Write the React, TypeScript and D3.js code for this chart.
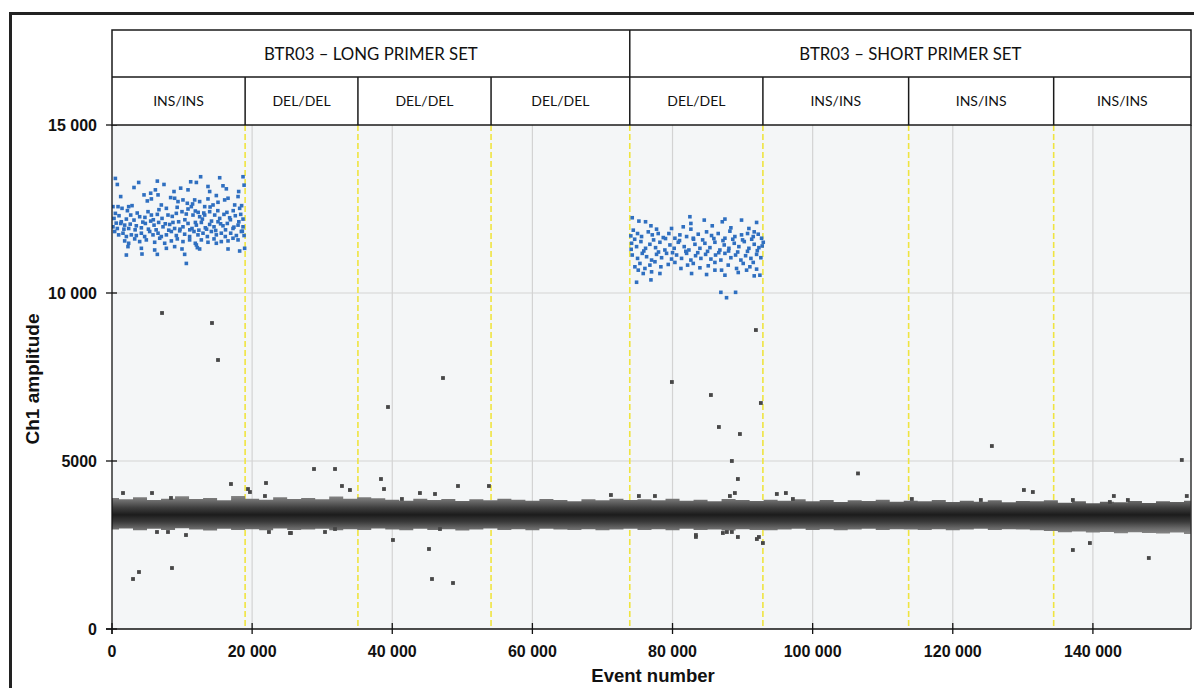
import React from "react";
import * as d3 from "d3";

const W = 1194;
const H = 688;

// ---------- data ----------
const xTicks = [0, 20000, 40000, 60000, 80000, 100000, 120000, 140000];
const yTicks = [0, 5000, 10000, 15000];
const tickLabel = (v: number) => (v === 0 ? "0" : v < 10000 ? String(v) : `${Math.floor(v / 1000)} 000`);

const wellBounds = [0, 19000, 35100, 54100, 73900, 92900, 113700, 134400, 154000];
const wellLabels = ["INS/INS", "DEL/DEL", "DEL/DEL", "DEL/DEL", "DEL/DEL", "INS/INS", "INS/INS", "INS/INS"];
const primerSets = ["BTR03 – LONG PRIMER SET", "BTR03 – SHORT PRIMER SET"];
const primerBounds = [0, 73900, 154000];

// band envelope sampled every 2000 events (0 .. 154000)
const bandStep = 2000;
const bandUpper = [
  3900, 3860, 3920, 3840, 3880, 3950, 3870, 3900, 3830, 3960, 3880, 3850, 3920, 3870, 3900, 3860, 3940, 3880, 3920, 3890,
  3850, 3820, 3880, 3840, 3870, 3810, 3860, 3830, 3880, 3850, 3820, 3870, 3840, 3800, 3860, 3830, 3880, 3840,
  3860, 3830, 3880, 3820, 3850, 3800, 3870, 3840, 3810, 3850,
  3820, 3860, 3800, 3840, 3780, 3830, 3810, 3850, 3790, 3820,
  3800, 3840, 3780, 3820, 3790, 3830, 3770, 3810, 3800, 3830,
  3760, 3800, 3740, 3790, 3770, 3810, 3750, 3800, 3780, 3820,
];
const bandLower = [
  2960, 2990, 2940, 2980, 2950, 3000, 2960, 2930, 2980, 2950, 2970, 2940, 2990, 2950, 2960, 2980, 2940, 2970, 2950, 2990,
  2960, 2940, 2980, 2950, 2970, 2930, 2960, 2990, 2950, 2970, 2940, 2980, 2960, 2950, 2970, 2940, 2960, 2980,
  2950, 2970, 2940, 2980, 2950, 2960, 2930, 2970, 2950, 2940,
  2960, 2980, 2950, 2970, 2940, 2960, 2980, 2950, 2970, 2960,
  2950, 2970, 2940, 2960, 2980, 2950, 2970, 2960, 2940, 2920,
  2880, 2900, 2870, 2890, 2850, 2880, 2860, 2840, 2870, 2830,
];

// positive droplets (event, amplitude) – long primer set INS/INS well
const positivesLong: [number, number][] = [
  [480, 13410], [760, 13230], [3810, 13290], [3140, 13140], [6470, 13330], [7420, 13230], [11230, 13310], [12040, 13290],
  [12650, 13460], [15370, 13430], [15840, 13190], [18700, 13460], [18850, 13210],
  [1240, 12870], [4570, 12920], [5520, 12970], [6190, 13070], [6570, 12920], [8370, 12840], [8850, 13020], [9800, 13120],
  [10850, 13070], [13700, 13170], [13940, 13020], [14890, 12900], [16320, 13100], [16560, 12820], [17990, 12870], [18080, 13020],
  [140, 12570], [860, 12570], [1430, 12520], [2380, 12570], [2860, 12600], [5040, 12740], [5620, 12800], [7040, 12620],
  [7760, 12520], [8940, 12820], [9420, 12720], [10130, 12770], [10750, 12670], [11320, 12570], [11800, 12770], [12510, 12720],
  [13230, 12570], [13700, 12800], [14420, 12620], [15130, 12700], [16080, 12770], [17510, 12620], [18220, 12520],
  [290, 12220], [480, 12370], [1330, 12120], [2050, 12200], [2670, 12320], [3140, 12170], [3950, 12270], [5140, 12420],
  [5620, 12320], [6470, 12340], [7140, 12220], [7990, 12320], [9180, 12370], [9990, 12420], [10850, 12500], [11560, 12320],
  [11890, 12440], [12510, 12270], [13230, 12320], [13940, 12420], [14660, 12320], [15370, 12220], [15980, 12340], [16790, 12240],
  [17600, 12300], [18370, 12340], [18700, 12200],
  [140, 11970], [760, 11920], [1240, 12070], [1810, 12020], [2380, 11920], [3470, 12000], [4190, 11940], [4760, 12070],
  [5520, 12140], [6000, 12020], [6660, 12100], [7280, 11970], [8230, 12040], [8940, 11920], [9510, 12120], [10130, 11970],
  [10850, 12070], [11420, 11920], [12040, 12020], [12750, 12100], [13320, 11940], [13940, 12040], [14560, 11970], [15130, 12120],
  [15840, 12000], [16460, 12070], [17270, 11920], [17990, 12020], [18700, 11970],
  [380, 11830], [950, 11730], [1570, 11780], [2050, 11680], [2760, 11730], [3470, 11710], [4190, 11780], [4660, 11680],
  [5380, 11830], [5850, 11730], [6570, 11780], [7040, 11680], [7760, 11730], [8470, 11830], [9180, 11710], [9660, 11850],
  [10370, 11750], [11080, 11680], [11700, 11830], [12270, 11730], [12990, 11780], [13610, 11680], [14180, 11830], [14890, 11730],
  [15600, 11780], [16170, 11680], [16940, 11780], [17750, 11710], [18460, 11830], [18850, 11710],
  [1810, 11550], [2380, 11480], [3240, 11610], [3950, 11530], [4900, 11580], [6090, 11510], [6810, 11630], [7520, 11480],
  [8470, 11550], [9320, 11610], [10130, 11530], [11080, 11580], [11890, 11480], [12750, 11580], [13700, 11510], [14560, 11610],
  [15600, 11530], [16560, 11550], [17270, 11630], [17990, 11580],
  [2280, 11380], [4190, 11330], [6090, 11280], [7760, 11330], [8940, 11380], [9990, 11310], [12040, 11430], [12510, 11310],
  [14890, 11480], [16560, 11310], [18220, 11250], [18930, 11330],
  [2050, 11130], [4280, 11160], [6470, 11150], [10370, 11150], [12180, 11350], [10610, 10880],
  [600, 12080], [1700, 11900], [2600, 12050], [3300, 11880], [4400, 12110], [5200, 11900], [5900, 12180], [6300, 11880],
  [7600, 12060], [8100, 11870], [8700, 12100], [9700, 11900], [10400, 12180], [11100, 11880], [11900, 12100], [12400, 11870],
  [12900, 12200], [13500, 11900], [14200, 12140], [14800, 11860], [15500, 12060], [16200, 11880], [16900, 12180], [17400, 11960],
  [18100, 12120], [18600, 11840],
  [1000, 12300], [2200, 12450], [3600, 12380], [4700, 12250], [6700, 12480], [8600, 12280], [9300, 12550], [10600, 12350],
  [11500, 12650], [12300, 12400], [13100, 12380], [14000, 12560], [15100, 12450], [16400, 12400], [17300, 12450], [18500, 12600],
];

// positive droplets – short primer set DEL/DEL well
const positivesShort: [number, number][] = [
  [74250, 12240], [75200, 12140], [76150, 12120], [76920, 12000], [77720, 11900], [79860, 11920], [81530, 11970], [82480, 12270],
  [82620, 12070], [82620, 11900], [84530, 12170], [85670, 12000], [87480, 12200], [87100, 12120], [89850, 12170], [92000, 12100],
  [88330, 11940], [90900, 11920], [91660, 11820],
  [74400, 11870], [75010, 11770], [75580, 11680], [76540, 11820], [77110, 11730], [77960, 11770], [78680, 11650], [79480, 11770],
  [80340, 11630], [81050, 11730], [82010, 11680], [82960, 11630], [83670, 11750], [84860, 11820], [85570, 11710], [86520, 11770],
  [87480, 11630], [88190, 11840], [88900, 11680], [89850, 11730], [90710, 11770], [91520, 11680], [92230, 11750], [92710, 11630],
  [74160, 11480], [74870, 11380], [75490, 11530], [76150, 11330], [76770, 11450], [77580, 11350], [78200, 11510], [78910, 11280],
  [79630, 11430], [80240, 11330], [80820, 11510], [81670, 11380], [82340, 11280], [83200, 11450], [83910, 11330], [84620, 11480],
  [85340, 11350], [86050, 11510], [86760, 11280], [87380, 11430], [88050, 11330], [88810, 11480], [89470, 11380], [90240, 11530],
  [90900, 11330], [91660, 11450], [92330, 11350], [92950, 11510],
  [74250, 11130], [75010, 11030], [75680, 11180], [76300, 11080], [77010, 10980], [77720, 11150], [78440, 11050], [79150, 11180],
  [79860, 11010], [80580, 11130], [81290, 11030], [82010, 11180], [82620, 10980], [83290, 11110], [84050, 11030], [84720, 11150],
  [85480, 11010], [86140, 11130], [86900, 10980], [87480, 11180], [88330, 11050], [89000, 11130], [89760, 10980], [90430, 11110],
  [91190, 11030], [92000, 11150], [92610, 11050],
  [74630, 10780], [75350, 10880], [76060, 10730], [76770, 10830], [77490, 10930], [78340, 10780], [79390, 10850], [80340, 10910],
  [81200, 10730], [82150, 10830], [82960, 10880], [83910, 10750], [85100, 10810], [86050, 10910], [87000, 10680], [87950, 10830],
  [89140, 10730], [90090, 10880], [91040, 10780], [92000, 10710], [91520, 10910],
  [75820, 10580], [77010, 10630], [78200, 10580], [82720, 10580], [84860, 10550], [86050, 10680], [87480, 10530], [89380, 10610],
  [90570, 10680], [91660, 10510], [92470, 10530], [75110, 10680],
  [74870, 10320], [76920, 10390], [86900, 10020], [87710, 9860], [89000, 10020],
  [74600, 11600], [75900, 11250], [77300, 11580], [78000, 11220], [79000, 11620], [80000, 11200], [81000, 11560], [81900, 11240],
  [83000, 11600], [83600, 11200], [84300, 11580], [85000, 11240], [85900, 11620], [86600, 11200], [87200, 11560], [88000, 11250],
  [88600, 11600], [89300, 11220], [90000, 11580], [90700, 11240], [91300, 11600], [92100, 11260], [92800, 11400], [74100, 11300],
  [74050, 11700],
];

// negative droplets lying outside the main band
const negativeOutliers: [number, number][] = [
  [7140, 9405], [14270, 9107], [15130, 8006],
  [1570, 4047], [5710, 4047], [8420, 3899], [16980, 4315], [19410, 4166], [19690, 4077], [21980, 4345], [21830, 3958],
  [6420, 2887], [7990, 2887], [10560, 2797], [3000, 1488], [3850, 1696], [8560, 1815], [25400, 2857], [22400, 2887], [25540, 2857],
  [47240, 7470], [39390, 6607], [28830, 4762], [31830, 4762], [32820, 4256], [33960, 4137], [38390, 4464], [38820, 4166],
  [43950, 4047], [46100, 4018], [49380, 4256], [53800, 4256], [41380, 3869], [40100, 2649], [45240, 2381], [45670, 1488],
  [48670, 1369], [30400, 2887], [31830, 2976], [46810, 2976],
  [79910, 7351], [85480, 6964], [91900, 8898], [92610, 6726], [86620, 6012], [89620, 5803], [88470, 5000], [89330, 4464],
  [88190, 3958], [88900, 4047], [71210, 3988], [75200, 3958], [77490, 3958], [94890, 4018], [96180, 4047], [97180, 3869],
  [83340, 2797], [83340, 2740], [87190, 2857], [87760, 2887], [88470, 2887], [89330, 2738], [92040, 2678], [92330, 2738], [92900, 2559],
  [106470, 4630], [125580, 5446], [152690, 5030], [130150, 4137], [131430, 4077], [124010, 3839], [114160, 3869], [137140, 3839],
  [142990, 3958], [142420, 3780], [144990, 3839], [153400, 3958], [137140, 2351], [139570, 2559], [147980, 2113],
];

// ---------- layout ----------
const PL = 112, PR = 1191, PT = 125, PB = 629;
const HEAD_TOP = 30, HEAD_MID = 77;

export default function App() {
  const x = d3.scaleLinear().domain([0, 154000]).range([PL, PR]);
  const y = d3.scaleLinear().domain([0, 15000]).range([PB, PT]);

  const bandData = bandUpper.map((u, i) => ({ e: i * bandStep, hi: u, lo: bandLower[i] }));
  const bandPath = d3
    .area<{ e: number; hi: number; lo: number }>()
    .x((d) => x(d.e))
    .y0((d) => y(d.lo))
    .y1((d) => y(d.hi))
    .curve(d3.curveStep)(bandData) as string;

  const labelFont = "'Liberation Sans', Arial, sans-serif";
  const headFont = "Lato, 'Open Sans', sans-serif";
  const sq = 3.6;
  const sqN = 3.8;

  return (
    <svg width={W} height={H} style={{ position: "absolute", left: 0, top: 0, background: "#fff" }}>
      <defs>
        <linearGradient id="bandGrad" gradientUnits="userSpaceOnUse" x1="0" x2="0" y1={y(3980)} y2={y(2820)}>
          <stop offset="0" stopColor="#8a8a8a" />
          <stop offset="0.14" stopColor="#6c6c6c" />
          <stop offset="0.32" stopColor="#3e3e3e" />
          <stop offset="0.5" stopColor="#1c1c1c" />
          <stop offset="0.68" stopColor="#3a3a3a" />
          <stop offset="0.86" stopColor="#6c6c6c" />
          <stop offset="1" stopColor="#8a8a8a" />
        </linearGradient>
        <clipPath id="plotClip">
          <rect x={PL} y={PT} width={PR - PL} height={PB - PT} />
        </clipPath>
      </defs>

      {/* outer frame */}
      <line x1={10} x2={W} y1={13.5} y2={13.5} stroke="#222" strokeWidth={3} />
      <line x1={10.5} x2={10.5} y1={12} y2={H} stroke="#222" strokeWidth={3} />

      {/* plot background */}
      <rect x={PL} y={PT} width={PR - PL} height={PB - PT} fill="#f4f6f7" />

      {/* grid */}
      {xTicks.filter((t) => t > 0).map((t) => (
        <line key={"gx" + t} x1={x(t)} x2={x(t)} y1={PT} y2={PB} stroke="#d3d3d3" strokeWidth={1.2} />
      ))}
      {yTicks.filter((t) => t > 0 && t < 15000).map((t) => (
        <line key={"gy" + t} x1={PL} x2={PR} y1={y(t)} y2={y(t)} stroke="#d3d3d3" strokeWidth={1.2} />
      ))}

      {/* well separators */}
      {wellBounds.slice(1, -1).map((b) => (
        <line key={"wb" + b} x1={x(b)} x2={x(b)} y1={PT} y2={PB} stroke="#efe440" strokeWidth={1.6} strokeDasharray="6,3" />
      ))}

      <g clipPath="url(#plotClip)">
        {/* negative band */}
        <path d={bandPath} fill="url(#bandGrad)" />
        {negativeOutliers.map(([e, a], i) => (
          <rect key={"n" + i} x={x(e) - sqN / 2} y={y(a) - sqN / 2} width={sqN} height={sqN} fill="#474747" />
        ))}
        {/* positives */}
        {positivesLong.concat(positivesShort).map(([e, a], i) => (
          <rect key={"p" + i} x={x(e) - sq / 2} y={y(a) - sq / 2} width={sq} height={sq} fill="#2f6fc0" />
        ))}
      </g>

      {/* plot borders / axes */}
      <line x1={PR} x2={PR} y1={PT} y2={PB} stroke="#333" strokeWidth={1.5} />
      <line x1={106} x2={PR} y1={PB} y2={PB} stroke="#111" strokeWidth={1.3} />
      <line x1={PL} x2={PL} y1={PT} y2={634} stroke="#111" strokeWidth={1.3} />

      {/* y ticks */}
      {yTicks.map((t) => (
        <g key={"yt" + t}>
          <line x1={106} x2={117} y1={y(t)} y2={y(t)} stroke="#111" strokeWidth={1.3} />
          <text x={97} y={y(t)} dy="0.36em" textAnchor="end" fontFamily={labelFont} fontWeight="bold" fontSize={16} fill="#111">
            {tickLabel(t)}
          </text>
        </g>
      ))}
      {/* x ticks */}
      {xTicks.map((t) => (
        <g key={"xt" + t}>
          <line x1={x(t)} x2={x(t)} y1={623} y2={634} stroke="#111" strokeWidth={1.3} />
          <text x={x(t)} y={657} textAnchor="middle" fontFamily={labelFont} fontWeight="bold" fontSize={16} fill="#111">
            {tickLabel(t)}
          </text>
        </g>
      ))}

      {/* axis titles */}
      <text x={653} y={682} textAnchor="middle" fontFamily={labelFont} fontWeight="bold" fontSize={18.5} fill="#111">
        Event number
      </text>
      <text
        transform={`translate(39, ${379}) rotate(-90)`}
        textAnchor="middle"
        fontFamily={labelFont}
        fontWeight="bold"
        fontSize={19}
        fill="#111"
      >
        Ch1 amplitude
      </text>

      {/* header table */}
      <rect x={PL} y={HEAD_TOP} width={PR - PL} height={PT - HEAD_TOP} fill="#fff" stroke="#1a1a1a" strokeWidth={1.5} />
      <line x1={PL} x2={PR} y1={HEAD_MID} y2={HEAD_MID} stroke="#1a1a1a" strokeWidth={1.5} />
      {primerBounds.slice(1, -1).map((b) => (
        <line key={"pb" + b} x1={x(b)} x2={x(b)} y1={HEAD_TOP} y2={HEAD_MID} stroke="#1a1a1a" strokeWidth={1.5} />
      ))}
      {wellBounds.slice(1, -1).map((b) => (
        <line key={"hb" + b} x1={x(b)} x2={x(b)} y1={HEAD_MID} y2={PT} stroke="#1a1a1a" strokeWidth={1.5} />
      ))}
      {primerSets.map((p, i) => (
        <text
          key={"ps" + i}
          x={(x(primerBounds[i]) + x(primerBounds[i + 1])) / 2}
          y={(HEAD_TOP + HEAD_MID) / 2}
          dy="0.36em"
          textAnchor="middle"
          fontFamily={headFont}
          fontSize={16.8}
          fill="#111"
        >
          {p}
        </text>
      ))}
      {wellLabels.map((w, i) => (
        <text
          key={"wl" + i}
          x={(x(wellBounds[i]) + x(wellBounds[i + 1])) / 2}
          y={(HEAD_MID + PT) / 2}
          dy="0.36em"
          textAnchor="middle"
          fontFamily={headFont}
          fontSize={14}
          fill="#111"
        >
          {w}
        </text>
      ))}
    </svg>
  );
}
